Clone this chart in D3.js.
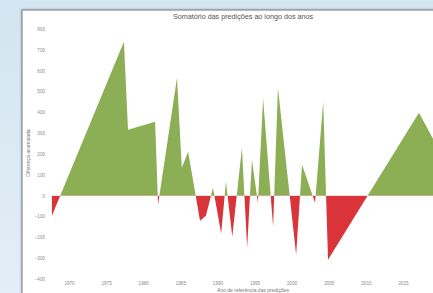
<!DOCTYPE html>
<html>
<head>
<meta charset="utf-8">
<script src="https://cdn.jsdelivr.net/npm/d3@7"></script>
<style>
  html, body { margin: 0; padding: 0; overflow: hidden; }
  body { width: 433px; height: 293px; background: linear-gradient(#d3e5f0, #e3eef6); }
  svg { display: block; }
</style>
</head>
<body>
<div id="chart"></div>
<script>
// ---- data ----
const years = [1967.7, 1977.4, 1977.95, 1981.6, 1982.0, 1984.55, 1985.2, 1986.05, 1987.65, 1988.45,
               1989.4, 1990.5, 1991.15, 1992.0, 1993.3, 1994.0, 1994.65, 1995.45, 1996.15, 1997.5,
               1998.15, 2000.6, 2001.4, 2003.15, 2004.25, 2004.9, 2017.15, 2022.0];
const values = [-96, 739, 317, 355, -43, 566, 134, 211, -120, -96,
                38, -182, 67, -197, 230, -250, 173, -34, 466, -149,
                518, -283, 149, -34, 451, -307, 398, 77];
const xTicks = [1970, 1975, 1980, 1985, 1990, 1995, 2000, 2005, 2010, 2015];
const yTicks = [800, 700, 600, 500, 400, 300, 200, 100, 0, -100, -200, -300, -400];
const title = "Somatório das predições ao longo dos anos";
const xLabel = "Ano de referência das predições";
const yLabel = "Diferença acumulada";

const data = years.map((y, i) => ({ x: y, v: values[i] }));

const W = 433, H = 293;
const svg = d3.select("#chart").append("svg").attr("width", W).attr("height", H);

const defs = svg.append("defs");
const sh = defs.append("filter").attr("id", "shadow").attr("x", "-5%").attr("y", "-5%").attr("width", "110%").attr("height", "110%");
sh.append("feDropShadow").attr("dx", 0).attr("dy", 0).attr("stdDeviation", 1.2).attr("flood-color", "#6a7f8c").attr("flood-opacity", 0.6);

// panel
svg.append("rect").attr("x", 22).attr("y", 10).attr("width", 430).attr("height", 300)
  .attr("fill", "#fff").attr("stroke", "#8a8f93").attr("stroke-width", 1.2).attr("filter", "url(#shadow)");

const x = d3.scaleLinear().domain([1970, 2015]).range([69, 403]);
const y = d3.scaleLinear().domain([-400, 800]).range([279, 29]);

const plotL = 50, plotR = 433;
defs.append("clipPath").attr("id", "above").append("rect")
  .attr("x", plotL).attr("y", 0).attr("width", plotR - plotL).attr("height", y(0));
defs.append("clipPath").attr("id", "below").append("rect")
  .attr("x", plotL).attr("y", y(0)).attr("width", plotR - plotL).attr("height", H - y(0));

const area = d3.area().x(d => x(d.x)).y0(y(0)).y1(d => y(d.v)).curve(d3.curveLinear);

svg.append("path").datum(data).attr("d", area).attr("fill", "#8cae55").attr("clip-path", "url(#above)");
svg.append("path").datum(data).attr("d", area).attr("fill", "#d8343a").attr("clip-path", "url(#below)");

// title
svg.append("text").attr("x", 243).attr("y", 18.5).attr("text-anchor", "middle")
  .attr("font-family", "Liberation Sans, Arial, sans-serif").attr("font-size", 7.2).attr("fill", "#555")
  .text(title);

// y axis
const yAxis = d3.axisLeft(y).tickValues(yTicks).tickSize(0).tickPadding(0);
const gy = svg.append("g").attr("transform", "translate(45,0)").call(yAxis);
gy.select(".domain").remove();
gy.selectAll("text").attr("font-family", "Liberation Sans, Arial, sans-serif").attr("font-size", 4.6).attr("fill", "#8a8a8a");

// x axis
const xAxis = d3.axisBottom(x).tickValues(xTicks).tickFormat(d3.format("d")).tickSize(0).tickPadding(2);
const gx = svg.append("g").attr("transform", "translate(0,280)").call(xAxis);
gx.select(".domain").remove();
gx.selectAll("text").attr("font-family", "Liberation Sans, Arial, sans-serif").attr("font-size", 4.6).attr("fill", "#8a8a8a");

// axis labels
svg.append("text").attr("x", 253).attr("y", 292).attr("text-anchor", "middle")
  .attr("font-family", "Liberation Sans, Arial, sans-serif").attr("font-size", 5).attr("fill", "#777")
  .text(xLabel);
svg.append("text").attr("transform", "translate(29.5,153) rotate(-90)").attr("text-anchor", "middle")
  .attr("font-family", "Liberation Sans, Arial, sans-serif").attr("font-size", 5).attr("fill", "#777")
  .text(yLabel);
</script>
</body>
</html>
